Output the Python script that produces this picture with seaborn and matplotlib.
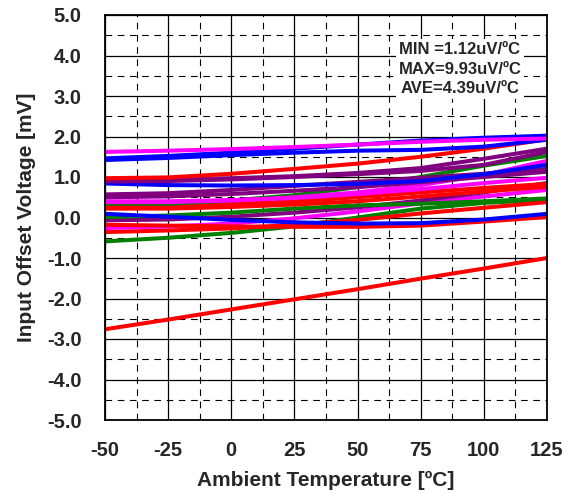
import numpy as np
import pandas as pd
import matplotlib
matplotlib.use("Agg")
import matplotlib.pyplot as plt
import seaborn as sns
from matplotlib.ticker import MultipleLocator

temps = [-50, -25, 0, 25, 50, 75, 100, 125]

m1 = [1.62, 1.65, 1.69, 1.74, 1.80, 1.87, 1.92, 1.95]
b1 = [1.46, 1.52, 1.60, 1.70, 1.80, 1.90, 1.97, 2.02]
b2 = [1.42, 1.47, 1.54, 1.60, 1.65, 1.67, 1.75, 1.92]
r1 = [0.97, 0.99, 1.08, 1.20, 1.33, 1.50, 1.70, 1.93]
p1 = [0.94, 0.94, 0.97, 1.02, 1.10, 1.22, 1.45, 1.70]
p2 = [0.89, 0.90, 0.94, 1.00, 1.07, 1.15, 1.30, 1.62]
b3 = [0.84, 0.80, 0.79, 0.80, 0.83, 0.90, 1.07, 1.30]
p3 = [0.57, 0.60, 0.68, 0.78, 0.88, 0.98, 1.08, 1.20]
p4 = [0.50, 0.52, 0.58, 0.66, 0.75, 0.87, 1.00, 1.13]
m2 = [0.40, 0.40, 0.43, 0.48, 0.58, 0.70, 0.85, 0.98]
m4 = [0.38, 0.38, 0.42, 0.50, 0.62, 0.80, 1.05, 1.40]
g1 = [0.34, 0.34, 0.42, 0.55, 0.75, 1.00, 1.28, 1.52]
r2 = [0.26, 0.28, 0.33, 0.40, 0.50, 0.62, 0.73, 0.83]
r3 = [0.22, 0.22, 0.26, 0.32, 0.40, 0.52, 0.64, 0.76]
b4 = [0.09, 0.02, -0.06, -0.12, -0.15, -0.14, -0.05, 0.09]
g2 = [0.01, 0.05, 0.12, 0.22, 0.30, 0.34, 0.40, 0.47]
p5 = [-0.07, -0.05, 0.02, 0.12, 0.25, 0.42, 0.62, 0.85]
r4 = [-0.18, -0.20, -0.22, -0.23, -0.23, -0.20, -0.10, 0.01]
m3 = [-0.26, -0.22, -0.15, -0.02, 0.15, 0.35, 0.52, 0.68]
r5 = [-0.36, -0.32, -0.27, -0.18, -0.06, 0.10, 0.24, 0.38]
g3 = [-0.59, -0.50, -0.38, -0.22, 0.00, 0.22, 0.36, 0.44]
r6 = [-2.76, -2.52, -2.27, -2.02, -1.77, -1.51, -1.26, -1.00]

series = {
    "g3": (g3, "green"), "r5": (r5, "red"), "m3": (m3, "magenta"),
    "r4": (r4, "red"), "p5": (p5, "purple"), "g2": (g2, "green"),
    "b4": (b4, "blue"), "r3": (r3, "red"), "r2": (r2, "red"),
    "g1": (g1, "green"), "m4": (m4, "magenta"), "m2": (m2, "magenta"),
    "p4": (p4, "purple"), "p3": (p3, "purple"), "b3": (b3, "blue"),
    "p2": (p2, "purple"), "p1": (p1, "purple"), "r1": (r1, "red"),
    "b2": (b2, "blue"), "b1": (b1, "blue"), "m1": (m1, "magenta"),
    "r6": (r6, "red"),
}
color_map = {"red": "#FF0000", "blue": "#0000FF", "magenta": "#FF00FF",
             "purple": "#800080", "green": "#008000"}

rows = []
for name, (vals, col) in series.items():
    for t, v in zip(temps, vals):
        rows.append({"unit": name, "T": t, "V": v})
df = pd.DataFrame(rows)
palette = {name: color_map[col] for name, (vals, col) in series.items()}

sns.set_style("white")
plt.rcParams["font.family"] = ["Liberation Sans", "DejaVu Sans"]
plt.rcParams["axes.unicode_minus"] = False

fig = plt.figure(figsize=(5.72, 4.93), dpi=100)
ax = fig.add_axes([105/572, 1-420/493, (547-105)/572, (420-15)/493])

sns.lineplot(data=df, x="T", y="V", hue="unit", palette=palette,
             hue_order=list(series.keys()), lw=2.9, legend=False, ax=ax,
             estimator=None, sort=False)

ax.set_xlim(-50, 125)
ax.set_ylim(-5, 5)
ax.xaxis.set_major_locator(MultipleLocator(25))
ax.xaxis.set_minor_locator(MultipleLocator(12.5))
ax.yaxis.set_major_locator(MultipleLocator(1))
ax.yaxis.set_minor_locator(MultipleLocator(0.5))
ax.set_axisbelow(True)
ax.grid(which="major", color="black", lw=0.9, ls="-")
ax.grid(which="minor", color="black", lw=0.8, ls=(0, (6, 5)))
ax.tick_params(which="both", length=0)
ax.set_xticks(temps)
ax.set_xticklabels([str(t) for t in temps], fontsize=14.5, fontweight="bold")
yt = np.arange(-5, 5.1, 1.0)
ax.set_yticks(yt)
ax.set_yticklabels([f"{v:.1f}" for v in yt], fontsize=14.5, fontweight="bold")
ax.tick_params(axis="x", pad=15)
ax.tick_params(axis="y", pad=17)
for s in ax.spines.values():
    s.set_visible(True)
    s.set_color("black")
    s.set_linewidth(1.3)

ax.set_xlabel("Ambient Temperature [ºC]", fontsize=15, fontweight="bold", labelpad=8)
ax.set_ylabel("Input Offset Voltage [mV]", fontsize=15, fontweight="bold", labelpad=8)

ax.text(0.803, 0.866, "MIN =1.12uV/ºC\nMAX=9.93uV/ºC\nAVE=4.39uV/ºC",
        transform=ax.transAxes, ha="center", va="center", fontsize=12,
        fontweight="bold", linespacing=1.38,
        bbox=dict(facecolor="white", edgecolor="none", pad=2), zorder=5)

fig.savefig("out.png", dpi=100)
